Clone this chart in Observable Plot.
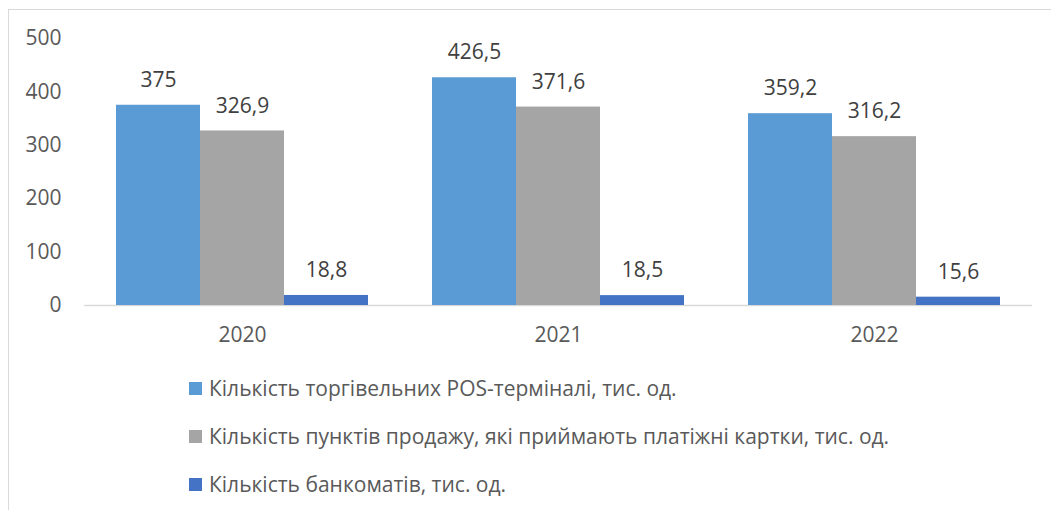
<!DOCTYPE html>
<html><head><meta charset="utf-8">
<script src="https://cdn.jsdelivr.net/npm/d3@7"></script>
<script src="https://cdn.jsdelivr.net/npm/@observablehq/plot@0.6"></script>
<style>
html,body{margin:0;padding:0;background:#fff;overflow:hidden;width:1051px;height:510px}
#frame{position:absolute;left:8px;top:9px;width:1200px;height:700px;border:1px solid #d9d9d9;box-sizing:border-box}
#chart{position:absolute;left:0;top:0}
#legend{position:absolute;left:189px;top:364px;font-family:"Open Sans";font-size:21px;color:#595959}
.row{display:flex;align-items:center;height:48px;white-space:nowrap}
.sw{width:13px;height:13px;margin-right:7px;flex:none}
</style></head><body>
<div id="frame"></div><div id="chart"></div><div id="legend"></div>
<script>
const years = ["2020", "2021", "2022"];
const series = [
  "Кількість торгівельних POS-терміналі, тис. од.",
  "Кількість пунктів продажу, які приймають платіжні картки, тис. од.",
  "Кількість банкоматів, тис. од."
];
const colors = ["#5b9bd5", "#a5a5a5", "#4472c4"];
const posTerminals = [375, 426.5, 359.2];
const salePoints = [326.9, 371.6, 316.2];
const atms = [18.8, 18.5, 15.6];
const yTicks = [0, 100, 200, 300, 400, 500];

const seriesValues = [posTerminals, salePoints, atms];
const data = [];
years.forEach((yr, i) => {
  series.forEach((s, j) => data.push({year: yr, series: s, value: seriesValues[j][i]}));
});
const fmt = v => String(v).replace(".", ",");

const chart = Plot.plot({
  width: 1051, height: 360,
  marginLeft: 84, marginRight: 19, marginTop: 38, marginBottom: 55,
  style: {fontFamily: "Open Sans", fontSize: "21px", color: "#595959", background: "transparent"},
  fx: {domain: years, padding: 0, label: null},
  x: {domain: series, paddingInner: 0, paddingOuter: 0.37, axis: null},
  y: {domain: [0, 500], label: null},
  color: {domain: series, range: colors},
  marks: [
    Plot.axisY({ticks: yTicks, tickSize: 0, tickPadding: 23, label: null, fill: "#595959", tickFormat: d => String(d)}),
    Plot.axisFx({anchor: "bottom", tickSize: 0, tickPadding: 22, label: null, fill: "#595959"}),
    Plot.ruleY([0], {stroke: "#d9d9d9", strokeWidth: 1.5}),
    Plot.barY(data, {fx: "year", x: "series", y: "value", fill: "series"}),
    Plot.text(data, {fx: "year", x: "series", y: "value", text: d => fmt(d.value), dy: -25, fill: "#404040", fontSize: 21})
  ]
});
document.getElementById("chart").appendChild(chart);

const legend = document.getElementById("legend");
series.forEach((s, j) => {
  const row = document.createElement("div");
  row.className = "row";
  const sw = document.createElement("span");
  sw.className = "sw";
  sw.style.background = colors[j];
  const t = document.createElement("span");
  t.textContent = s;
  row.appendChild(sw); row.appendChild(t);
  legend.appendChild(row);
});
</script>
</body></html>
